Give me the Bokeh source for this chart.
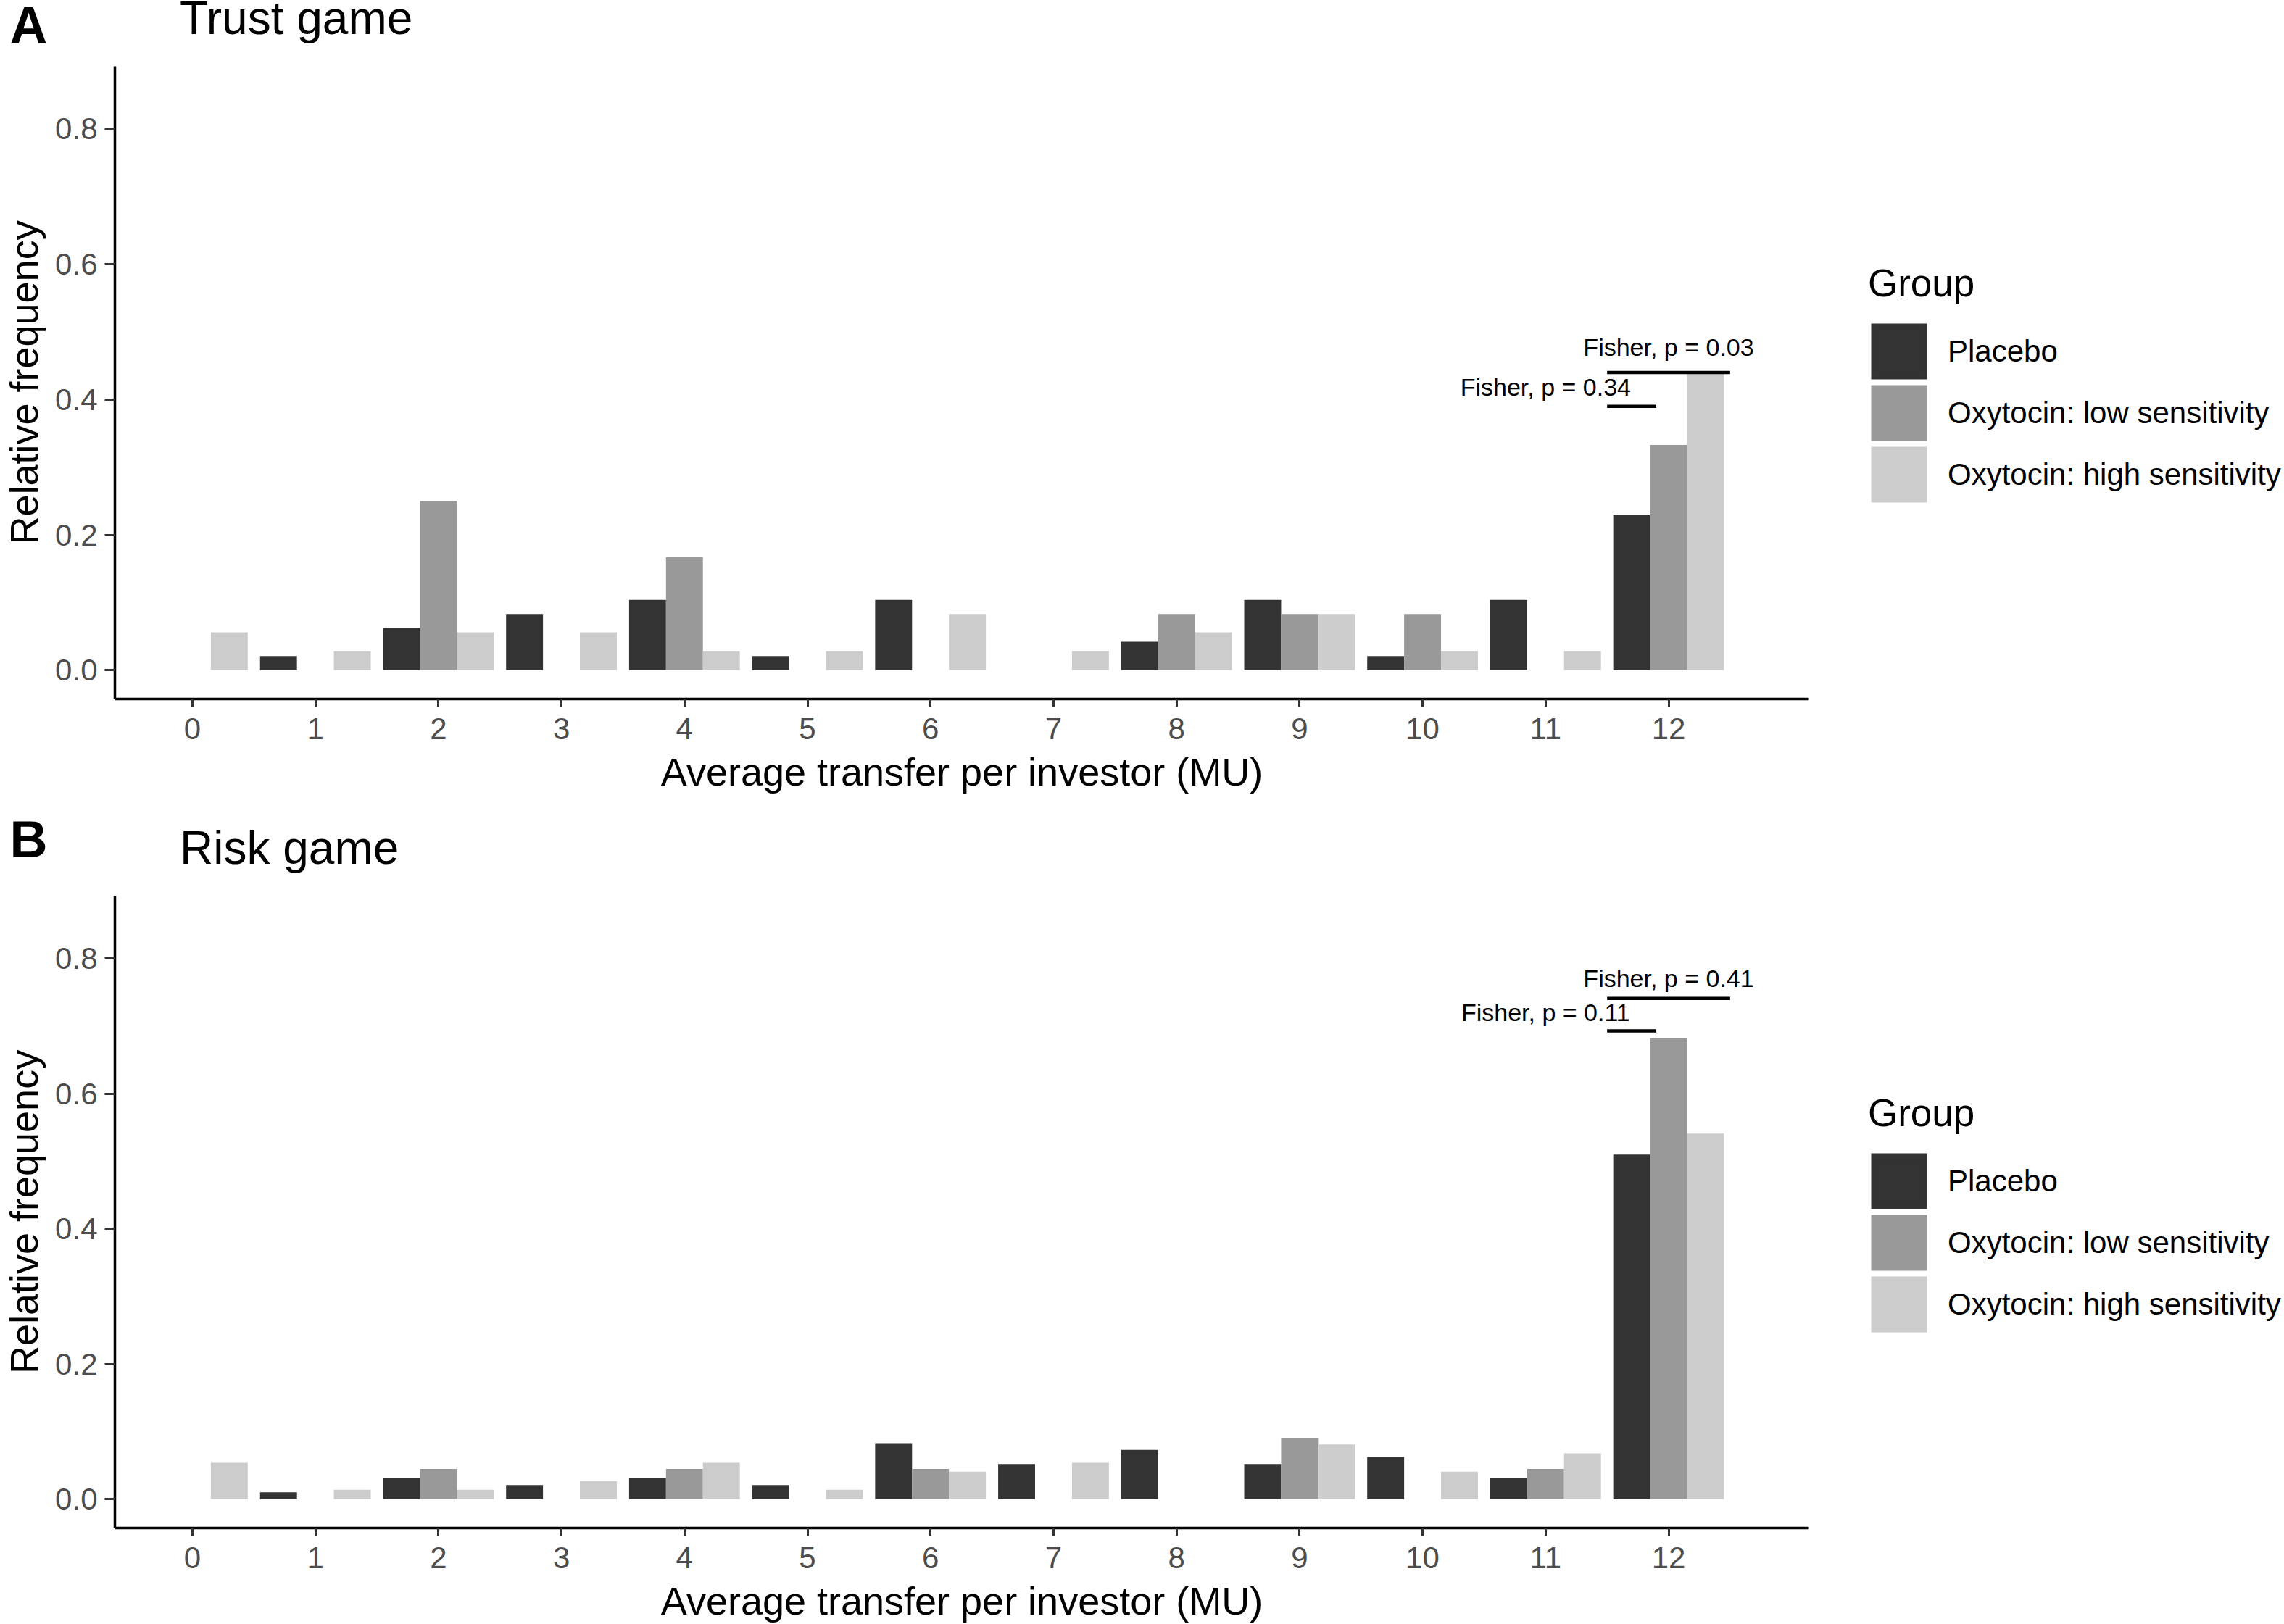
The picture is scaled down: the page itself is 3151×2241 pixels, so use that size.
from bokeh.plotting import figure
from bokeh.models import (Range1d, FixedTicker, Legend, LegendItem, Spacer,
                          ColumnDataSource, PrintfTickFormatter)
from bokeh.layouts import column, row
from bokeh.embed import file_html
from bokeh.resources import INLINE
from bokeh.transform import dodge
from bokeh.core.properties import value

# ---------------- data ----------------
transfer = list(range(13))
x_ticks = list(range(13))
y_ticks = [0.0, 0.2, 0.4, 0.6, 0.8]
groups = ["Placebo", "Oxytocin: low sensitivity", "Oxytocin: high sensitivity"]
group_colors = ["#333333", "#999999", "#CCCCCC"]
group_offsets = [-0.3, 0.0, 0.3]

trust_placebo = [0.0, 0.021, 0.0625, 0.083, 0.104, 0.021, 0.104, 0.0, 0.042, 0.104, 0.021, 0.104, 0.229]
trust_low     = [0.0, 0.0, 0.25, 0.0, 0.167, 0.0, 0.0, 0.0, 0.083, 0.083, 0.083, 0.0, 0.333]
trust_high    = [0.056, 0.028, 0.056, 0.056, 0.028, 0.028, 0.083, 0.028, 0.056, 0.083, 0.028, 0.028, 0.44]

risk_placebo = [0.0, 0.0104, 0.031, 0.021, 0.031, 0.021, 0.083, 0.052, 0.073, 0.052, 0.0625, 0.031, 0.51]
risk_low     = [0.0, 0.0, 0.045, 0.0, 0.045, 0.0, 0.045, 0.0, 0.0, 0.091, 0.0, 0.045, 0.682]
risk_high    = [0.054, 0.014, 0.014, 0.027, 0.054, 0.014, 0.041, 0.054, 0.0, 0.081, 0.041, 0.068, 0.541]

trust_ann_text = ["Fisher, p = 0.34", "Fisher, p = 0.03"]
trust_ann_x = [11.0, 12.0]
trust_ann_y = [0.419, 0.478]
trust_br_x0 = [11.5, 11.5]
trust_br_x1 = [11.9, 12.5]
trust_br_y = [0.39, 0.44]

risk_ann_text = ["Fisher, p = 0.11", "Fisher, p = 0.41"]
risk_ann_x = [11.0, 12.0]
risk_ann_y = [0.72, 0.771]
risk_br_x0 = [11.5, 11.5]
risk_br_x1 = [11.9, 12.5]
risk_br_y = [0.693, 0.741]

FONT = "Liberation Sans"
TOTAL_W = 3148
MAIN_W = 2577
LEG_W = TOTAL_W - MAIN_W


def blank(fig):
    fig.outline_line_color = None
    fig.grid.visible = False
    fig.background_fill_color = "white"
    fig.border_fill_color = "white"


def bare_figure(w, h, xr, yr):
    f = figure(width=w, height=h, output_backend="svg", toolbar_location=None,
               x_range=xr, y_range=yr, x_axis_location=None, y_axis_location=None,
               min_border=0, min_border_left=0, min_border_right=0,
               min_border_top=0, min_border_bottom=0)
    blank(f)
    return f


def make_header(letter, title, h, letter_y, title_y):
    hp = bare_figure(TOTAL_W, h, Range1d(0, TOTAL_W), Range1d(0, h))
    hp.text(x=[13], y=[letter_y], text=[letter], text_font=value(FONT),
            text_font_size="72px", text_font_style="bold",
            text_baseline="alphabetic", text_align="left", text_color="black")
    hp.text(x=[247.5], y=[title_y], text=[title], text_font=value(FONT),
            text_font_size="64px", text_baseline="alphabetic", text_align="left",
            text_color="black")
    return hp


def make_main(series, ann_text, ann_x, ann_y, br_x0, br_x1, br_y, height, mtop, mbottom):
    p = figure(width=MAIN_W, height=height, output_backend="svg", toolbar_location=None,
               x_range=Range1d(-0.63, 13.14), y_range=Range1d(-0.0425, 0.8925),
               min_border_left=153, min_border_right=MAIN_W - 153 - 2342,
               min_border_top=mtop, min_border_bottom=mbottom)
    blank(p)
    for col, off, vals in zip(group_colors, group_offsets, series):
        src = ColumnDataSource(dict(x=transfer, top=vals))
        p.vbar(x=dodge("x", off), top="top", bottom=0, width=0.3, source=src,
               fill_color=col, line_color=None)

    p.segment(x0=br_x0, x1=br_x1, y0=br_y, y1=br_y, line_color="black", line_width=4.5)
    p.text(x=ann_x, y=ann_y, text=ann_text, text_font=value(FONT), text_font_size="34px",
           text_align="center", text_baseline="alphabetic", text_color="black")

    for ax in (p.xaxis[0], p.yaxis[0]):
        ax.axis_line_color = "black"
        ax.axis_line_width = 3.5
        ax.major_tick_line_color = "#333333"
        ax.major_tick_line_width = 3
        ax.major_tick_in = 0
        ax.minor_tick_line_color = None
        ax.major_label_text_font = FONT
        ax.major_label_text_font_size = "42px"
        ax.major_label_text_color = "#4D4D4D"
        ax.axis_label_text_font = FONT
        ax.axis_label_text_font_size = "54px"
        ax.axis_label_text_font_style = "normal"
        ax.axis_label_text_color = "black"

    p.xaxis.ticker = FixedTicker(ticks=x_ticks)
    p.xaxis.major_tick_out = 11
    p.xaxis.major_label_standoff = 15
    p.xaxis.axis_label = "Average transfer per investor (MU)"
    p.xaxis.axis_label_standoff = 12

    p.yaxis.ticker = FixedTicker(ticks=y_ticks)
    p.yaxis.formatter = PrintfTickFormatter(format="%.1f")
    p.yaxis.major_tick_out = 14
    p.yaxis.major_label_standoff = 10
    p.yaxis.axis_label = "Relative frequency"
    p.yaxis.axis_label_standoff = 10
    return p


def make_legend_col(series, height, top_gap):
    lf = bare_figure(LEG_W, height - top_gap, Range1d(0, 1), Range1d(0, 1))
    items = []
    for name, col, off, vals in zip(groups, group_colors, group_offsets, series):
        src = ColumnDataSource(dict(x=transfer, top=vals))
        r = lf.vbar(x=dodge("x", off), top="top", bottom=0, width=0.3, source=src,
                    fill_color=col, line_color=col, line_width=9, line_join="miter",
                    visible=False)
        items.append(LegendItem(label=name, renderers=[r]))
    legend = Legend(items=items, location="top_left", title="Group",
                    title_text_font=FONT, title_text_font_size="53px",
                    title_text_font_style="normal", title_text_color="black",
                    title_standoff=21,
                    label_text_font=FONT, label_text_font_size="42px",
                    label_text_color="black", label_standoff=25,
                    glyph_width=85, glyph_height=85, label_height=85, spacing=0,
                    padding=0, margin=0, border_line_color=None,
                    background_fill_alpha=0, inactive_fill_alpha=0,
                    click_policy="none")
    lf.add_layout(legend, "center")
    return column(Spacer(width=LEG_W, height=top_gap), lf, spacing=0)


head_a = make_header("A", "Trust game", 80, 45.5, 56)
trust_series = [trust_placebo, trust_low, trust_high]
main_a = make_main(trust_series, trust_ann_text, trust_ann_x, trust_ann_y,
                   trust_br_x0, trust_br_x1, trust_br_y, height=1053, mtop=11, mbottom=169)
leg_a = make_legend_col(trust_series, 1053, 280)

head_b = make_header("B", "Risk game", 82, 57.5, 46)
risk_series = [risk_placebo, risk_low, risk_high]
main_b = make_main(risk_series, risk_ann_text, risk_ann_x, risk_ann_y,
                   risk_br_x0, risk_br_x1, risk_br_y, height=1026, mtop=21, mbottom=133)
leg_b = make_legend_col(risk_series, 1026, 290)

layout = column(head_a, row(main_a, leg_a, spacing=0), head_b, row(main_b, leg_b, spacing=0),
                spacing=0)
open("out.html", "w").write(file_html(layout, INLINE))
